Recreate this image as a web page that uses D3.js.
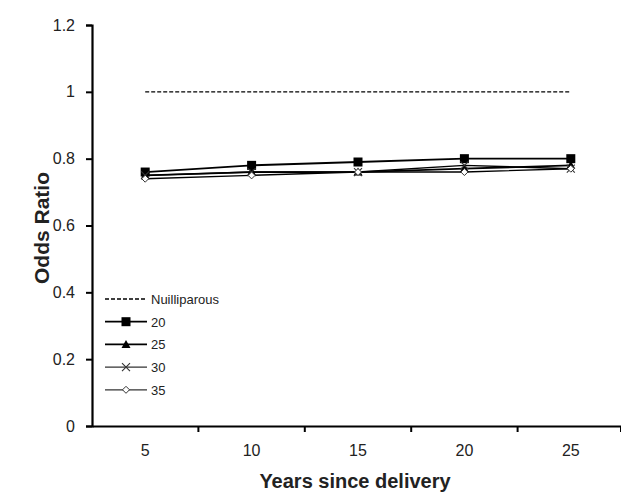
<!DOCTYPE html>
<html><head><meta charset="utf-8">
<script src="https://cdn.jsdelivr.net/npm/d3@7"></script>
<style>body{margin:0;background:#fff}svg{display:block;font-family:Arial,"Liberation Sans",sans-serif}</style>
</head><body><svg id="c" width="621" height="495"></svg>
<script>
const years = [5, 10, 15, 20, 25];
const nulliparous = [1, 1, 1, 1, 1];
const s20 = [0.76, 0.78, 0.79, 0.80, 0.80];
const s25 = [0.75, 0.76, 0.76, 0.77, 0.78];
const s30 = [0.75, 0.76, 0.76, 0.78, 0.77];
const s35 = [0.74, 0.75, 0.76, 0.76, 0.77];
const yTicks = [0, 0.2, 0.4, 0.6, 0.8, 1, 1.2];
const seriesNames = ["20", "25", "30", "35"];

const svg = d3.select("#c");
const L = 92, R = 624, T = 25, B = 426;
const x = d3.scaleBand().domain(years).range([L, R]);
const y = d3.scaleLinear().domain([0, 1.2]).range([B, T]);

// axes
const yAxis = d3.axisLeft(y).tickValues(yTicks).tickSize(6).tickPadding(11).tickFormat(d => d3.format("~g")(d));
const gy = svg.append("g").attr("transform", `translate(${L},0)`).call(yAxis);
gy.select(".domain").attr("stroke", "#000").attr("stroke-width", 2.2);
gy.selectAll(".tick line").attr("stroke-width", 2);
gy.selectAll("text").attr("font-size", 16).attr("fill", "#222");

const xAxis = d3.axisBottom(x).tickSize(0).tickSizeOuter(0);
const gx = svg.append("g").attr("transform", `translate(0,${B})`).call(xAxis);
gx.select(".domain").attr("stroke", "#000").attr("stroke-width", 2.2);
gx.selectAll("text").attr("font-size", 16).attr("fill", "#222").attr("y", 19);
// band boundary ticks
const bounds = years.slice(1).map(d => x(d)).concat([R - 3]);
gx.selectAll(".btick").data(bounds).enter().append("line")
  .attr("x1", d => d).attr("x2", d => d).attr("y1", 0).attr("y2", 6)
  .attr("stroke", "#000").attr("stroke-width", 2);

const cx = d => x(d) + x.bandwidth() / 2;

// nulliparous dashed
svg.append("path").datum(nulliparous)
  .attr("d", d3.line().x((d, i) => cx(years[i])).y(d => y(d)))
  .attr("fill", "none").attr("stroke", "#000").attr("stroke-width", 1.4).attr("stroke-dasharray", "4,2");

const series = [s20, s25, s30, s35];
const line = d3.line().x((d, i) => cx(years[i])).y(d => y(d));
series.forEach((s, k) => {
  svg.append("path").datum(s).attr("d", line).attr("fill", "none").attr("stroke", "#000").attr("stroke-width", k < 2 ? 1.8 : 1.4);
});

function marker(g, type, px, py) {
  if (type === 0) g.append("rect").attr("x", px - 4.5).attr("y", py - 4.5).attr("width", 9).attr("height", 9).attr("fill", "#000");
  else if (type === 1) g.append("path").attr("d", `M${px},${py-4.5}L${px+4.5},${py+3.5}L${px-4.5},${py+3.5}Z`).attr("fill", "#000");
  else if (type === 2) g.append("path").attr("d", `M${px-4},${py-4}L${px+4},${py+4}M${px-4},${py+4}L${px+4},${py-4}`).attr("stroke", "#333").attr("stroke-width", 1.1);
  else g.append("path").attr("d", `M${px},${py-3.5}L${px+3.5},${py}L${px},${py+3.5}L${px-3.5},${py}Z`).attr("fill", "#fff").attr("stroke", "#333").attr("stroke-width", 1);
}
const mg = svg.append("g");
series.forEach((s, k) => s.forEach((v, i) => marker(mg, k, cx(years[i]), y(v))));

// legend
const lg = svg.append("g").attr("font-size", 13).attr("fill", "#222");
const ly0 = 299, ldy = 22.7, lx1 = 105, lx2 = 147;
lg.append("line").attr("x1", lx1).attr("x2", lx2).attr("y1", ly0).attr("y2", ly0)
  .attr("stroke", "#000").attr("stroke-width", 1.3).attr("stroke-dasharray", "4,2");
lg.append("text").attr("x", lx2 + 4).attr("y", ly0 + 4.5).text("Nuilliparous");
seriesNames.forEach((n, k) => {
  const yy = ly0 + ldy * (k + 1);
  lg.append("line").attr("x1", lx1).attr("x2", lx2).attr("y1", yy).attr("y2", yy).attr("stroke", k < 2 ? "#000" : "#333").attr("stroke-width", k < 2 ? 1.8 : 1.2);
  marker(lg, k, (lx1 + lx2) / 2, yy);
  lg.append("text").attr("x", lx2 + 4).attr("y", yy + 5).text(n);
});

// titles
svg.append("text").attr("x", 355).attr("y", 488).attr("text-anchor", "middle")
  .attr("font-size", 20).attr("font-weight", "bold").attr("fill", "#222").text("Years since delivery");
svg.append("text").attr("transform", `translate(49,228) rotate(-90)`).attr("text-anchor", "middle")
  .attr("font-size", 21).attr("font-weight", "bold").attr("fill", "#222").text("Odds Ratio");
</script></body></html>
